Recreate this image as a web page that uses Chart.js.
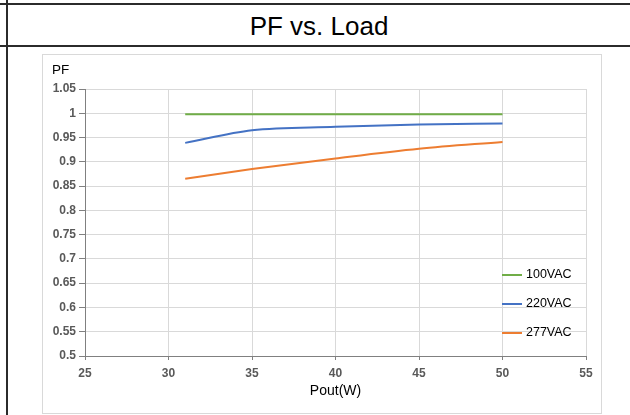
<!DOCTYPE html>
<html lang="en">
<head>
  <meta charset="UTF-8" />
  <title>PF vs. Load</title>
  <script src="https://cdn.jsdelivr.net/npm/chart.js"></script>
</head>
<style>
    body {
      margin: 0;
      width: 630px;
      height: 415px;
      position: relative;
      overflow: hidden;
      background: #fff;
      font-family: "Liberation Sans", Arial, sans-serif;
    }
    .hline {
      position: absolute;
      left: 0;
      width: 630px;
      height: 2px;
      background: #2b2b2b;
    }
    .vline {
      position: absolute;
      left: 6px;
      top: 0;
      width: 2px;
      height: 415px;
      background: #2b2b2b;
    }
    .title {
      position: absolute;
      left: 8px;
      width: 622px;
      top: 6px;
      height: 40px;
      line-height: 40px;
      text-align: center;
      font-size: 26px;
      color: #000;
    }
    .box {
      position: absolute;
      left: 42px;
      top: 54px;
      width: 558px;
      height: 358px;
      border: 1px solid #d9d9d9;
    }
    #grafico {
      width: 558px !important;
      height: 358px !important;
    }
  </style>
<body>
  <div class="hline" style="top:3px"></div>
  <div class="hline" style="top:45px"></div>
  <div class="vline"></div>
  <div class="title">PF vs. Load</div>
  <div class="box">
    <canvas id="grafico" width="558" height="358"></canvas>
  </div>
  <script>
    // measured points: output power (W) and power factor per input voltage
    const load = [31, 35, 40, 45, 50];
    const pf100 = [0.998, 0.998, 0.998, 0.998, 0.998];
    const pf220 = [0.939, 0.965, 0.972, 0.977, 0.979];
    const pf277 = [0.865, 0.885, 0.907, 0.927, 0.941];
    const seriesNames = ['100VAC', '220VAC', '277VAC'];

    const cores = ['#70ad47', '#4472c4', '#ed7d31'];
    const tickFont = { family: 'Liberation Sans', size: 12, weight: 'bold' };

    function pontos(ys) {
      return load.map((x, i) => ({ x: x, y: ys[i] }));
    }

    // legend drawn inside the plot, lower right
    const legendaInterna = {
      id: 'legendaInterna',
      afterDraw(chart) {
        const ctx = chart.ctx;
        ctx.save();
        ctx.font = '12.5px "Liberation Sans"';
        ctx.textBaseline = 'middle';
        chart.data.datasets.forEach((ds, i) => {
          const y = 220 + i * 29;
          ctx.strokeStyle = ds.borderColor;
          ctx.lineWidth = 2;
          ctx.beginPath();
          ctx.moveTo(459, y);
          ctx.lineTo(479, y);
          ctx.stroke();
          ctx.fillStyle = '#000';
          ctx.fillText(ds.label, 483, y);
        });
        ctx.restore();
      }
    };

    // "PF" label above the y axis
    const tituloY = {
      id: 'tituloY',
      afterDraw(chart) {
        const ctx = chart.ctx;
        ctx.save();
        ctx.font = '13.5px "Liberation Sans"';
        ctx.fillStyle = '#000';
        ctx.textBaseline = 'middle';
        ctx.fillText('PF', 9, 15);
        ctx.restore();
      }
    };

    const ctx = document.getElementById('grafico').getContext('2d');
    new Chart(ctx, {
      type: 'line',
      data: {
        datasets: [pf100, pf220, pf277].map((ys, i) => ({
          label: seriesNames[i],
          data: pontos(ys),
          borderColor: cores[i],
          backgroundColor: cores[i],
          borderWidth: 2,
          pointRadius: 0,
          cubicInterpolationMode: 'monotone',
          fill: false
        }))
      },
      options: {
        responsive: false,
        animation: false,
        layout: { padding: { top: 34, right: 15, left: 0, bottom: 0 } },
        plugins: {
          legend: { display: false },
          tooltip: { enabled: false }
        },
        scales: {
          x: {
            type: 'linear',
            min: 25,
            max: 55,
            afterFit(scale) { scale.height = 57; },
            ticks: { stepSize: 5, color: '#595959', font: tickFont, padding: 6, maxRotation: 0 },
            grid: { color: '#d9d9d9', tickColor: '#808080', tickLength: 4 },
            border: { color: '#808080' },
            title: {
              display: true,
              text: 'Pout(W)',
              color: '#000',
              font: { family: 'Liberation Sans', size: 14 },
              padding: { top: 2, bottom: 13 }
            }
          },
          y: {
            min: 0.5,
            max: 1.05,
            afterFit(scale) { scale.width = 42; },
            ticks: {
              stepSize: 0.05,
              color: '#595959',
              font: tickFont,
              padding: 3,
              callback: (v) => String(Number(v.toFixed(2)))
            },
            grid: { color: '#d9d9d9', tickColor: '#808080', tickLength: 6 },
            border: { color: '#808080' }
          }
        }
      },
      plugins: [legendaInterna, tituloY]
    });
  </script>
</body>
</html>
